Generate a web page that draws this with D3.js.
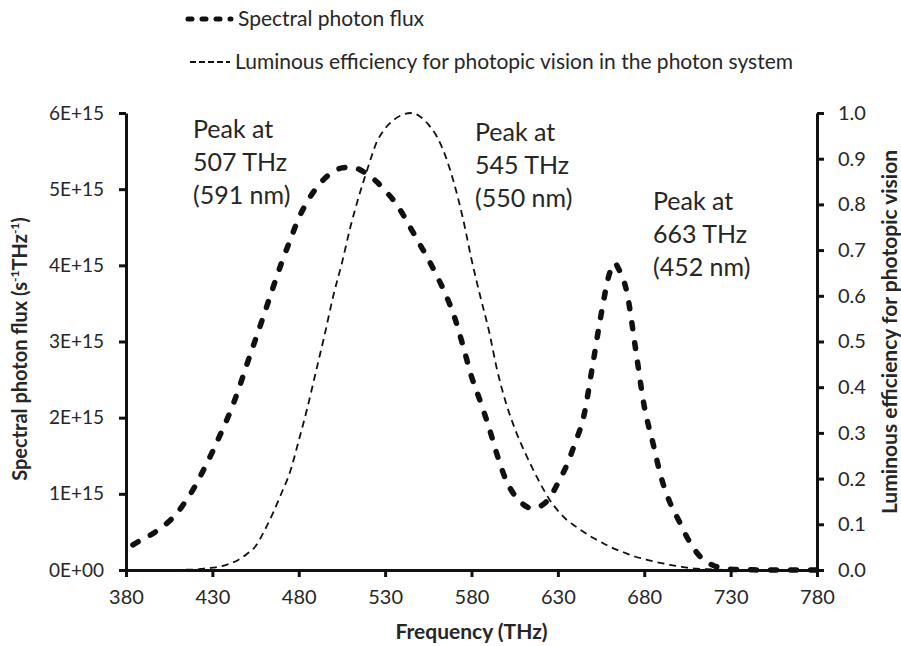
<!DOCTYPE html>
<html>
<head>
<meta charset="utf-8">
<script src="https://cdn.jsdelivr.net/npm/d3@7"></script>
<style>
  body { margin: 0; background: #fff; }
  svg text { font-family: Lato, "Open Sans", sans-serif; fill: #262626; }
</style>
</head>
<body>
<svg id="chart" width="901" height="646"></svg>
<script>
// spectral photon flux, in units of 1E+15 s^-1 THz^-1
var fluxFreq = [384, 390, 395, 400, 405, 410, 415, 420, 425, 430, 435, 440, 445, 450, 455, 460, 465, 470, 475, 480,
                485, 490, 495, 500, 505, 510, 515, 520, 525, 530, 535, 540, 545, 550, 555, 560, 565, 570, 575, 580,
                585, 590, 595, 600, 605, 610, 615, 620, 625, 630, 635, 640, 645, 650, 655, 660, 663, 665, 670, 675,
                680, 685, 690, 695, 700, 705, 710, 715, 720, 725, 730, 740, 750, 760, 770, 780];
var fluxE15 = [0.33, 0.41, 0.47, 0.55, 0.64, 0.76, 0.92, 1.10, 1.32, 1.55, 1.80, 2.06, 2.36, 2.70, 3.03, 3.36, 3.70, 4.03, 4.33, 4.62,
               4.84, 5.01, 5.14, 5.23, 5.28, 5.29, 5.26, 5.19, 5.10, 4.98, 4.85, 4.68, 4.48, 4.28, 4.08, 3.86, 3.62, 3.33, 2.95, 2.54,
               2.22, 1.88, 1.50, 1.18, 0.98, 0.86, 0.81, 0.84, 0.94, 1.14, 1.37, 1.67, 2.02, 2.67, 3.35, 3.90, 4.03, 3.96, 3.64, 2.90,
               2.15, 1.67, 1.20, 0.88, 0.65, 0.42, 0.24, 0.12, 0.06, 0.025, 0.01, 0.004, 0, 0, 0, 0];

// luminous efficiency for photopic vision (photon system)
var effFreq = [380, 400, 420, 425, 430, 435, 440, 445, 450, 455, 460, 465, 470, 475, 480, 485, 490, 495, 500, 505,
               510, 515, 520, 525, 530, 535, 540, 545, 550, 555, 560, 565, 570, 575, 580, 585, 590, 595, 600, 605,
               610, 615, 620, 625, 630, 635, 640, 645, 650, 655, 660, 665, 670, 675, 680, 685, 690, 695, 700, 705,
               710, 715, 720, 730, 750, 780];
var effValues = [0, 0, 0.001, 0.003, 0.005, 0.008, 0.014, 0.022, 0.035, 0.052, 0.085, 0.124, 0.168, 0.215, 0.283, 0.355, 0.435, 0.515, 0.60, 0.672,
                 0.752, 0.82, 0.88, 0.935, 0.966, 0.985, 0.996, 1.0, 0.993, 0.975, 0.948, 0.905, 0.845, 0.77, 0.68, 0.60, 0.525, 0.435, 0.365, 0.31,
                 0.265, 0.225, 0.188, 0.155, 0.13, 0.11, 0.096, 0.083, 0.071, 0.061, 0.051, 0.043, 0.036, 0.029, 0.024, 0.019, 0.015, 0.011, 0.008, 0.005,
                 0.003, 0.002, 0.001, 0, 0, 0];

var xTicks = [380, 430, 480, 530, 580, 630, 680, 730, 780];
var yLeftTicks = [0, 1, 2, 3, 4, 5, 6];
var yLeftLabels = ["0E+00", "1E+15", "2E+15", "3E+15", "4E+15", "5E+15", "6E+15"];
var yRightTicks = [0, 0.1, 0.2, 0.3, 0.4, 0.5, 0.6, 0.7, 0.8, 0.9, 1.0];

var peakNotes = [
    ["Peak at", "507 THz", "(591 nm)"],
    ["Peak at", "545 THz", "(550 nm)"],
    ["Peak at", "663 THz", "(452 nm)"]
];
var noteAnchor = [[193, 138], [475, 141], [653, 210]];

var plotLeft = 126, plotRight = 817, plotTop = 113, plotBottom = 570;

var svg = d3.select('#chart');
var x = d3.scaleLinear().domain([380, 780]).range([plotLeft, plotRight]);
var yL = d3.scaleLinear().domain([0, 6]).range([plotBottom, plotTop]);
var yR = d3.scaleLinear().domain([0, 1]).range([plotBottom, plotTop]);

// axes
var xAxis = svg.append('g').attr('transform', 'translate(0,' + plotBottom + ')')
    .call(d3.axisBottom(x).tickValues(xTicks).tickSize(7).tickPadding(8).tickSizeOuter(0));
var lAxis = svg.append('g').attr('transform', 'translate(' + plotLeft + ',0)')
    .call(d3.axisLeft(yL).tickValues(yLeftTicks).tickSize(7).tickPadding(15).tickSizeOuter(0)
        .tickFormat(function(d, i) { return yLeftLabels[i]; }));
var rAxis = svg.append('g').attr('transform', 'translate(' + plotRight + ',0)')
    .call(d3.axisRight(yR).tickValues(yRightTicks).tickSize(7).tickPadding(14).tickSizeOuter(0)
        .tickFormat(d3.format('.1f')));

[xAxis, lAxis, rAxis].forEach(function(a) {
    a.select('.domain').attr('stroke', '#111').attr('stroke-width', 3);
    a.selectAll('.tick line').attr('stroke', '#111').attr('stroke-width', 3);
    a.selectAll('.tick text').attr('font-size', 20).attr('fill', '#262626')
        .style('font-family', 'Lato, sans-serif');
});
lAxis.selectAll('.tick text').attr('font-size', 19);
xAxis.selectAll('.tick text').attr('dy', '0.95em');

// curves
var fluxLine = d3.line()
    .x(function(d) { return x(d[0]); })
    .y(function(d) { return yL(d[1]); })
    .curve(d3.curveMonotoneX);
var effLine = d3.line()
    .x(function(d) { return x(d[0]); })
    .y(function(d) { return yR(d[1]); })
    .curve(d3.curveMonotoneX);

svg.append('path')
    .attr('d', effLine(d3.zip(effFreq, effValues)))
    .attr('fill', 'none').attr('stroke', '#111').attr('stroke-width', 1.8)
    .attr('stroke-dasharray', '7,5');

svg.append('path')
    .attr('d', fluxLine(d3.zip(fluxFreq, fluxE15)))
    .attr('fill', 'none').attr('stroke', '#111').attr('stroke-width', 5.5)
    .attr('stroke-linecap', 'round')
    .attr('stroke-dasharray', '6,14');

// peak notes
peakNotes.forEach(function(lines, i) {
    var t = svg.append('text').attr('font-size', 25);
    lines.forEach(function(s, j) {
        t.append('tspan').attr('x', noteAnchor[i][0]).attr('y', noteAnchor[i][1] + j * 33).text(s);
    });
});

// axis titles
var lt = svg.append('text')
    .attr('transform', 'translate(27,349) rotate(-90)')
    .attr('text-anchor', 'middle').attr('font-size', 20).attr('font-weight', 'bold');
lt.append('tspan').text('Spectral photon flux (s');
lt.append('tspan').attr('font-size', 12).attr('dy', -8).text('-1');
lt.append('tspan').attr('dy', 8).text('THz');
lt.append('tspan').attr('font-size', 12).attr('dy', -8).text('-1');
lt.append('tspan').attr('dy', 8).text(')');

svg.append('text')
    .attr('transform', 'translate(897,332) rotate(-90)')
    .attr('text-anchor', 'middle').attr('font-size', 21).attr('font-weight', 'bold')
    .text('Luminous efficiency for photopic vision');

svg.append('text')
    .attr('x', (plotLeft + plotRight) / 2).attr('y', 639)
    .attr('text-anchor', 'middle').attr('font-size', 21).attr('font-weight', 'bold')
    .text('Frequency (THz)');

// legend
var legend = svg.append('g');
legend.append('line').attr('x1', 188).attr('x2', 231).attr('y1', 19).attr('y2', 19)
    .attr('stroke', '#111').attr('stroke-width', 5).attr('stroke-linecap', 'round')
    .attr('stroke-dasharray', '4,10');
legend.append('text').attr('x', 238).attr('y', 26).attr('font-size', 21).text('Spectral photon flux');
legend.append('line').attr('x1', 190).attr('x2', 230).attr('y1', 62).attr('y2', 62)
    .attr('stroke', '#111').attr('stroke-width', 1.8).attr('stroke-dasharray', '6,3');
legend.append('text').attr('x', 235).attr('y', 69).attr('font-size', 21)
    .text('Luminous efficiency for photopic vision in the photon system');
</script>
</body>
</html>
